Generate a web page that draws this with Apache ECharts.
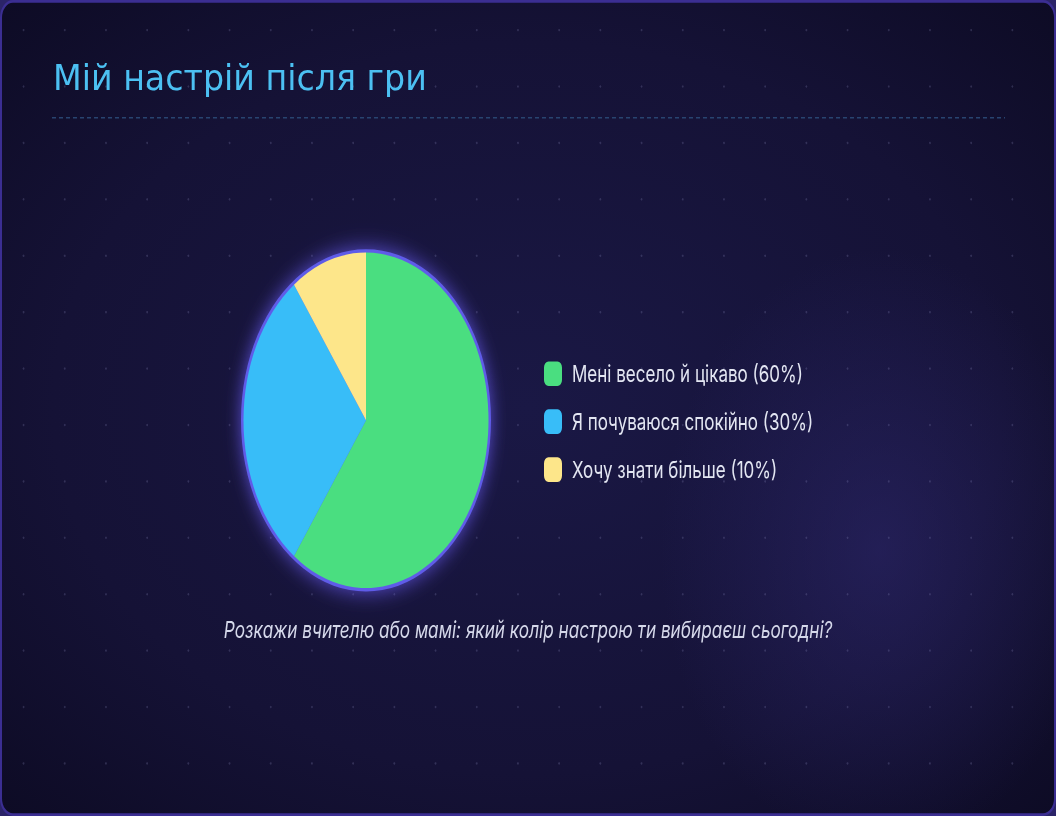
<!DOCTYPE html>
<html>
<head>
<meta charset="utf-8">
<script src="https://cdn.jsdelivr.net/npm/echarts@6/dist/echarts.min.js"></script>
<style>
  html, body { margin: 0; padding: 0; width: 1056px; height: 816px; overflow: hidden; background: #2b2468; }
  #c { width: 1056px; height: 596px; transform: scaleY(1.36913); transform-origin: 0 0; }
</style>
</head>
<body>
<div id="c"></div>
<script>
// ---- data ----
const titleText = 'Мій настрій після гри';
const categories = ['Мені весело й цікаво (60%)', 'Я почуваюся спокійно (30%)', 'Хочу знати більше (10%)'];
const values = [60, 30, 10];
const colors = ['#4ade80', '#38bdf8', '#fde68a'];
const noteText = 'Розкажи вчителю або мамі: який колір настрою ти вибираєш сьогодні?';

const W = 1056, H = 596;
const chart = echarts.init(document.getElementById('c'), null, { renderer: 'svg', width: W, height: H });

// background dots (decoration)
const dots = [];
for (let y = 22; y < H - 10; y += 41.2) {
  for (let x = 23.6; x < W - 8; x += 41.2) {
    dots.push({ type: 'circle', silent: true, shape: { cx: x, cy: y, r: 0.9 }, style: { fill: 'rgba(160,160,210,0.22)' } });
  }
}

const option = {
  animation: false,
  backgroundColor: 'transparent',
  graphic: [
    { type: 'rect', silent: true, z: -10, shape: { x: 1, y: 1, width: W - 2, height: H - 2, r: 12 },
      style: { fill: { type: 'radial', x: 0.5, y: 0.5, r: 0.75, colorStops: [
        { offset: 0, color: '#1a1845' }, { offset: 0.6, color: '#151236' }, { offset: 1, color: '#0c0a22' }] },
        stroke: '#3b2e92', lineWidth: 2 } },
    { type: 'circle', silent: true, z: -9, shape: { cx: 880, cy: 402, r: 220 },
      style: { fill: { type: 'radial', x: 0.5, y: 0.5, r: 0.5, colorStops: [
        { offset: 0, color: 'rgba(48,42,115,0.5)' }, { offset: 1, color: 'rgba(48,42,115,0)' }] } } },
    { type: 'group', silent: true, z: -8, children: dots },
    { type: 'line', silent: true, z: -7, shape: { x1: 52, y1: 86, x2: 1005, y2: 86 },
      style: { stroke: '#284470', lineWidth: 1, lineDash: [4, 3] } },
    { type: 'text', silent: true, x: 53, y: 44, scaleX: 1.28,
      style: { text: titleText, fill: '#4cc0f2', font: '26px "DejaVu Sans", sans-serif', textVerticalAlign: 'top' } },
    { type: 'text', silent: true, left: 'center', top: 451,
      style: { text: noteText, fill: '#d5d8ea', font: 'italic 17.2px Inter, "Noto Sans", sans-serif' } }
  ],
  legend: {
    data: categories, orient: 'vertical', left: 539, top: 259,
    itemWidth: 18, itemHeight: 18, itemGap: 17, icon: 'roundRect',
    selectedMode: false,
    textStyle: { color: '#e3e6f2', fontSize: 17, fontFamily: 'Inter, "Noto Sans", sans-serif', padding: [0, 0, 0, 5] }
  },
  series: [
    { type: 'pie', name: 'outline', silent: true, center: [366, 307], radius: [0, 125], z: 1,
      label: { show: false }, labelLine: { show: false },
      itemStyle: { color: '#5f5ce8', shadowBlur: 16, shadowColor: 'rgba(110,95,255,0.75)' },
      data: [{ value: values.reduce((a, b) => a + b, 0), name: 'outline' }] },
    { type: 'pie', name: 'mood', silent: true, center: [366, 307], radius: [0, 122.5], z: 2,
      startAngle: 90, clockwise: true,
      label: { show: false }, labelLine: { show: false },
      data: categories.map((c, i) => ({ name: c, value: values[i], itemStyle: { color: colors[i] } })) }
  ]
};
chart.setOption(option);
</script>
</body>
</html>
